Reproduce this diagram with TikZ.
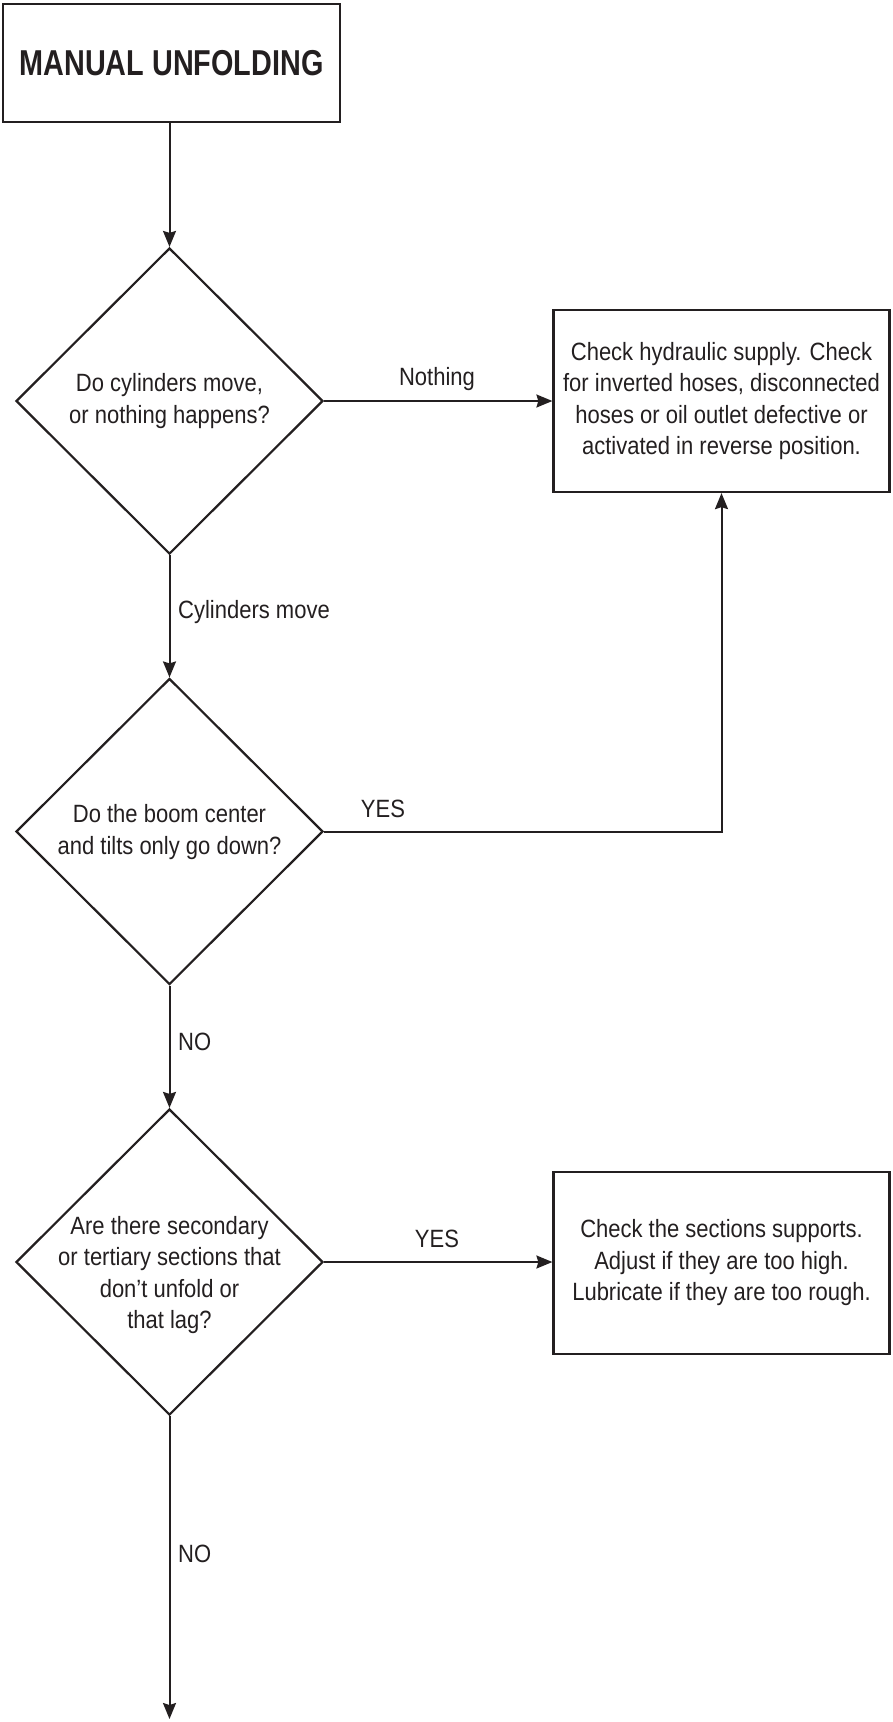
\documentclass[tikz,border=0pt]{standalone}
\usepackage{fontspec}
\setmainfont{Liberation Sans}[FakeStretch=0.88]
\newfontfamily\titlefont{Liberation Sans}[FakeStretch=0.8]
\usetikzlibrary{shapes.geometric,arrows.meta}
\definecolor{ink}{RGB}{35,31,32}

\begin{document}
\begin{tikzpicture}[x=1pt,y=-1pt,
  box/.style={draw=ink, line width=2.2pt, rectangle, minimum width=336pt,
    minimum height=182pt, inner sep=0pt, text=ink, align=center,
    font=\fontsize{25}{31.5}\selectfont},
  decision/.style={draw=ink, line width=2.2pt, diamond, aspect=1,
    minimum width=307pt, minimum height=306pt, inner sep=0pt},
  qtext/.style={text=ink, align=center, inner sep=0pt,
    font=\fontsize{25}{31.5}\selectfont},
  lbl/.style={text=ink, inner sep=0pt, font=\fontsize{25}{31.5}\selectfont},
  flow/.style={draw=ink, line width=2pt,
    -{Stealth[length=16pt,width=13pt,inset=2pt]}}]

\useasboundingbox (0,0) rectangle (893,1722);

% title
\node[draw=ink, line width=2.2pt, minimum width=337pt, minimum height=118pt,
  inner sep=0pt, text=ink, font=\titlefont\bfseries\fontsize{36}{40}\selectfont]
  (title) at (171.5,63) {MANUAL UNFOLDING};

% decisions
\node[decision] (d1) at (169.5,401) {};
\node[qtext] (q1) at (169.5,401) {Do cylinders move,\\or nothing happens?};

\node[decision] (d2) at (169.5,831.5) {};
\node[qtext] (q2) at (169.5,832) {Do the boom center\\and tilts only go down?};

\node[decision] (d3) at (169.5,1262) {};
\node[qtext] (q3) at (169.5,1275) {Are there secondary\\or tertiary sections that\\don’t unfold or\\that lag?};

% action boxes
\node[box] (b1) at (721.5,401) {Check hydraulic supply. Check\\for inverted hoses, disconnected\\hoses or oil outlet defective or\\activated in reverse position.};
\node[box] (b2) at (721.5,1263) {Check the sections supports.\\Adjust if they are too high.\\Lubricate if they are too rough.};

\coordinate (out) at (169.5,1719);

% connectors
\draw[flow] (d1.north |- title.south) -- (d1.north);
\draw[flow] (d1.east) -- (b1.west |- d1.east);
\draw[flow] (d1.south) -- (d2.north);
\draw[flow] (d2.east) -| (b1.south);
\draw[flow] (d2.south) -- (d3.north);
\draw[flow] (d3.east) -- (b2.west |- d3.east);
\draw[flow] (d3.south) -- (out);

% connector labels
\node[lbl, anchor=base] (l1) at (437,385) {Nothing};
\node[lbl, anchor=base west] (l2) at (178,618) {Cylinders move};
\node[lbl, anchor=base] (l3) at (383,817) {YES};
\node[lbl, anchor=base west] (l4) at (178,1050) {NO};
\node[lbl, anchor=base] (l5) at (437,1247) {YES};
\node[lbl, anchor=base west] (l6) at (178,1562) {NO};

\end{tikzpicture}
\end{document}
